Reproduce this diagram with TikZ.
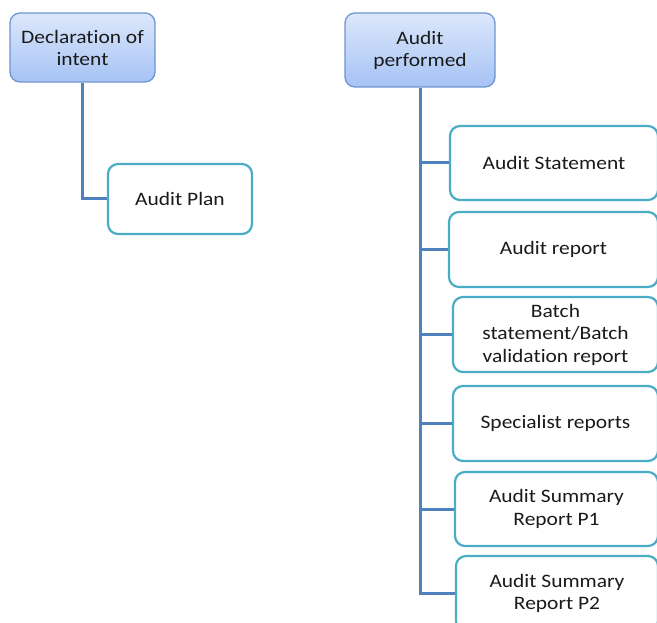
\documentclass[tikz,border=0pt]{standalone}
\usepackage{fontspec}
\setmainfont{Carlito}[FakeStretch=1.13,Ligatures=NoCommon]
\definecolor{topfillA}{HTML}{DCE7FB}
\definecolor{topfillB}{HTML}{A6C3F5}
\definecolor{topborder}{HTML}{6F95CF}
\definecolor{childborder}{HTML}{4BACC6}
\definecolor{linkcol}{HTML}{4F81BD}
\definecolor{txt}{HTML}{1A1A1A}
\tikzset{
  topbox/.style={draw=topborder, line width=1.3pt, rounded corners=10pt,
    top color=topfillA, bottom color=topfillB, align=center, inner sep=0pt,
    text=txt, font=\fontsize{19}{22}\selectfont},
  childbox/.style={draw=childborder, line width=2.2pt, rounded corners=10pt,
    fill=white, align=center, inner sep=0pt, text=txt,
    font=\fontsize{19}{22.5}\selectfont},
  link/.style={draw=linkcol, line width=3pt}
}
\begin{document}
\begin{tikzpicture}[x=1pt,y=-1pt]
\clip (0,0) rectangle (657,623);
\fill[white] (0,0) rectangle (657,623);
% left group
\node[topbox, minimum width=145pt, minimum height=69pt] (decl) at (82.5,47.5) {Declaration of\\intent};
\node[childbox, minimum width=144pt, minimum height=70pt] (plan) at (180,199) {Audit Plan};
% right group
\node[topbox, minimum width=150pt, minimum height=74pt] (perf) at (420,50) {Audit\\performed};
\node[childbox, minimum width=208pt, minimum height=74pt] (s1) at (554,163) {Audit Statement};
\node[childbox, minimum width=209pt, minimum height=75pt] (s2) at (553.5,249.5) {Audit report};
\node[childbox, minimum width=205pt, minimum height=75pt] (s3) at (555.5,334.5) {Batch\\statement/Batch\\validation report};
\node[childbox, minimum width=205pt, minimum height=75pt] (s4) at (555.5,423.5) {Specialist reports};
\node[childbox, minimum width=203pt, minimum height=74pt] (s5) at (556.5,509) {Audit Summary\\Report P1};
\node[childbox, minimum width=202pt, minimum height=75pt] (s6) at (557,593.5) {Audit Summary\\Report P2};
% connectors
\draw[link] (decl.south) |- (plan.west);
\draw[link] (perf.south) |- (s6.west);
\foreach \n in {s1,s2,s3,s4,s5}{
  \draw[link] (perf.south |- \n.west) -- (\n.west);
}
\end{tikzpicture}
\end{document}
